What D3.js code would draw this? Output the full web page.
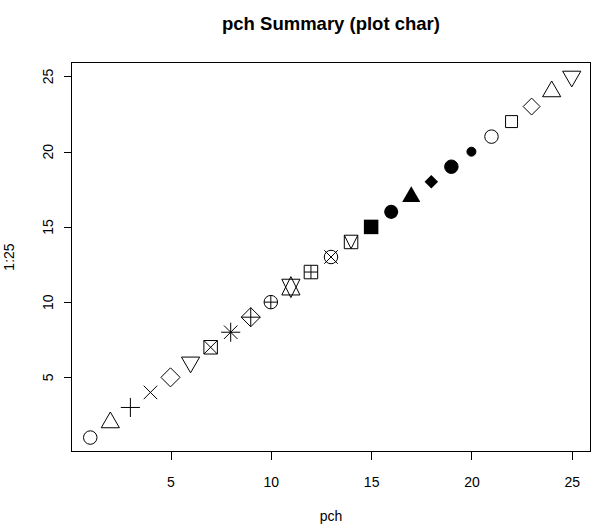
<!DOCTYPE html>
<html>
<head>
<meta charset="utf-8">
<script src="https://cdn.jsdelivr.net/npm/d3@7"></script>
<style>
  html, body { margin: 0; padding: 0; background: #fff; }
  text { font-family: "Liberation Sans", Arial, sans-serif; fill: #000; }
</style>
</head>
<body>
<svg id="chart" width="607" height="530"></svg>
<script>
// ---- data ----
const xValues = [1, 2, 3, 4, 5, 6, 7, 8, 9, 10, 11, 12, 13, 14, 15, 16, 17, 18, 19, 20, 21, 22, 23, 24, 25];
const yValues = [1, 2, 3, 4, 5, 6, 7, 8, 9, 10, 11, 12, 13, 14, 15, 16, 17, 18, 19, 20, 21, 22, 23, 24, 25];
const pchValues = [1, 2, 3, 4, 5, 6, 7, 8, 9, 10, 11, 12, 13, 14, 15, 16, 17, 18, 19, 20, 21, 22, 23, 24, 25];
const xTicks = [5, 10, 15, 20, 25];
const yTicks = [5, 10, 15, 20, 25];
const titleText = "pch Summary (plot char)";
const xLabel = "pch";
const yLabel = "1:25";

// ---- layout ----
const svg = d3.select("#chart");
const box = { left: 71, right: 591, top: 62, bottom: 452 };
const xMin = d3.min(xValues), xMax = d3.max(xValues);
const yMin = d3.min(yValues), yMax = d3.max(yValues);
const xPad = (xMax - xMin) * 0.04, yPad = (yMax - yMin) * 0.04;
const x = d3.scaleLinear().domain([xMin - xPad, xMax + xPad]).range([box.left, box.right]);
const y = d3.scaleLinear().domain([yMin - yPad, yMax + yPad]).range([box.bottom, box.top]);

// box
svg.append("rect")
  .attr("x", box.left + 0.5).attr("y", box.top + 0.5)
  .attr("width", box.right - box.left - 1).attr("height", box.bottom - box.top - 1)
  .attr("fill", "none").attr("stroke", "#000").attr("stroke-width", 1)
  .attr("shape-rendering", "crispEdges");

// x axis
const gx = svg.append("g")
  .attr("transform", `translate(0,${box.bottom - 0.5})`)
  .call(d3.axisBottom(x).tickValues(xTicks).tickSize(8).tickFormat(d3.format("d")));
gx.select(".domain").remove();
gx.selectAll(".tick line").attr("stroke", "#000").attr("shape-rendering", "crispEdges");
gx.selectAll(".tick text").attr("font-size", 14).attr("font-family", "Liberation Sans, Arial, sans-serif")
  .attr("fill", "#000").attr("dy", 0).attr("y", 35);

// y axis (ticks from d3 axis, labels rotated like R)
const gy = svg.append("g")
  .attr("transform", `translate(${box.left + 0.5},0)`)
  .call(d3.axisLeft(y).tickValues(yTicks).tickSize(8).tickFormat(""));
gy.select(".domain").remove();
gy.selectAll(".tick line").attr("stroke", "#000").attr("shape-rendering", "crispEdges");
gy.selectAll(".tick text").remove();
svg.append("g").selectAll("text").data(yTicks).join("text")
  .attr("transform", d => `translate(53,${y(d)}) rotate(-90)`)
  .attr("text-anchor", "middle").attr("font-size", 14)
  .text(d => d3.format("d")(d));

// titles
svg.append("text").attr("x", (box.left + box.right) / 2).attr("y", 30)
  .attr("text-anchor", "middle").attr("font-size", 18.5).attr("font-weight", "bold")
  .text(titleText);
svg.append("text").attr("x", (box.left + box.right) / 2).attr("y", 521)
  .attr("text-anchor", "middle").attr("font-size", 14).text(xLabel);
svg.append("text")
  .attr("transform", `translate(14,${(box.top + box.bottom) / 2}) rotate(-90)`)
  .attr("text-anchor", "middle").attr("font-size", 14).text(yLabel);

// ---- symbols (R pch glyphs) ----
const R = 6.75;
const SQRC = 0.88622692545275801364;
const DMDC = 1.25331413731550025119;
const TRC0 = 1.55512030155621416073;
const TRC1 = 1.34677368708859836060;
const TRC2 = 0.77756015077810708036;

function poly(pts) { return "M" + pts.map(p => p.join(",")).join("L") + "Z"; }
function line(x1, y1, x2, y2) { return `M${x1},${y1}L${x2},${y2}`; }

function upTri() {
  const r = TRC0 * R, yc = TRC2 * R, xc = TRC1 * R;
  return poly([[0, -r], [xc, yc], [-xc, yc]]);
}
function downTri() {
  const r = TRC0 * R, yc = TRC2 * R, xc = TRC1 * R;
  return poly([[0, r], [xc, -yc], [-xc, -yc]]);
}
function diamond(d) { return poly([[-d, 0], [0, -d], [d, 0], [0, d]]); }
function square(h) { return poly([[-h, -h], [h, -h], [h, h], [-h, h]]); }
function plus(h) { return line(-h, 0, h, 0) + line(0, -h, 0, h); }
function cross(h) { return line(-h, -h, h, h) + line(-h, h, h, -h); }

function drawSymbol(g, pch) {
  const stroke = (d) => g.append("path").attr("d", d).attr("fill", "none").attr("stroke", "#000").attr("stroke-width", 1);
  const fill = (d) => g.append("path").attr("d", d).attr("fill", "#000").attr("stroke", "none");
  const circle = (r, filled, withStroke) => g.append("circle").attr("r", r)
    .attr("fill", filled ? "#000" : "none").attr("stroke", withStroke ? "#000" : "none").attr("stroke-width", 1);
  const S2 = Math.SQRT2;
  switch (pch) {
    case 0: stroke(square(R * SQRC)); break;
    case 1: circle(R, false, true); break;
    case 2: stroke(upTri()); break;
    case 3: stroke(plus(S2 * R)); break;
    case 4: stroke(cross(R)); break;
    case 5: stroke(diamond(S2 * R)); break;
    case 6: stroke(downTri()); break;
    case 7: stroke(square(R) + cross(R)); break;
    case 8: stroke(plus(S2 * R) + cross(R)); break;
    case 9: stroke(diamond(S2 * R) + plus(S2 * R)); break;
    case 10: circle(R, false, true); stroke(plus(R)); break;
    case 11: {
      const r = TRC0 * R, yc = 0.5 * (TRC2 * R + r), xc = TRC1 * R;
      stroke(poly([[0, -r], [xc, yc], [-xc, yc]]) + poly([[0, r], [xc, -yc], [-xc, -yc]]));
      break;
    }
    case 12: stroke(square(R) + plus(R)); break;
    case 13: circle(R, false, true); stroke(cross(R)); break;
    case 14: stroke(square(R) + "M" + (-R) + "," + (-R) + "L0," + R + "L" + R + "," + (-R)); break;
    case 15: fill(square(R + 0.5)); break;
    case 16: circle(R + 0.3, true, false); break;
    case 17: fill(upTri()); break;
    case 18: fill(diamond(R)); break;
    case 19: circle(R, true, true); break;
    case 20: circle(R * 2 / 3, true, true); break;
    case 21: circle(R, false, true); break;
    case 22: stroke(square(R * SQRC)); break;
    case 23: stroke(diamond(R * DMDC)); break;
    case 24: stroke(upTri()); break;
    case 25: stroke(downTri()); break;
  }
}

const pts = xValues.map((v, i) => ({ x: v, y: yValues[i], pch: pchValues[i] }));
svg.append("g").selectAll("g.pt").data(pts).join("g")
  .attr("class", "pt")
  .attr("transform", d => `translate(${x(d.x)},${y(d.y)})`)
  .each(function (d) { drawSymbol(d3.select(this), d.pch); });
</script>
</body>
</html>
